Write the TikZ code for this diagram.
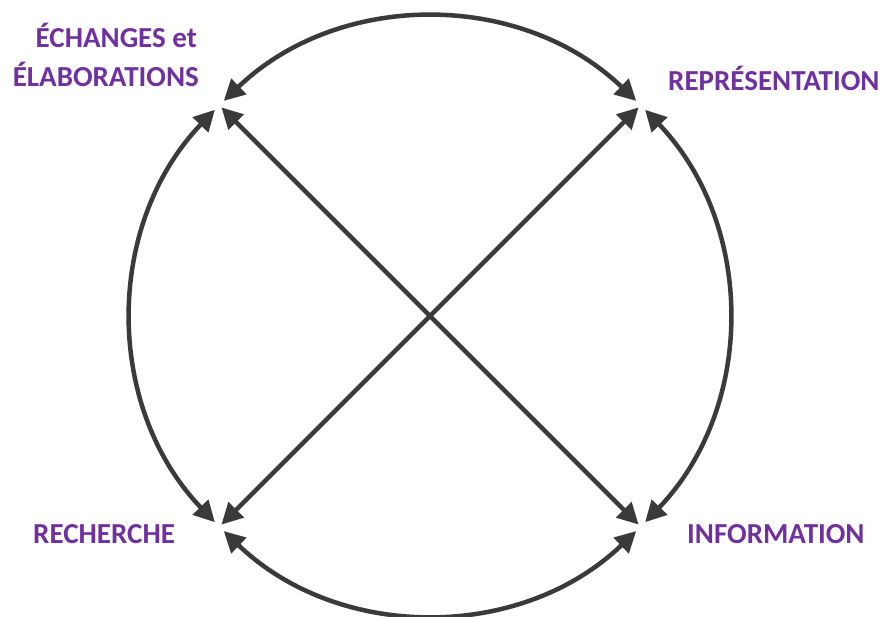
\documentclass[tikz,border=0pt]{standalone}
\usepackage{fontspec}
\setmainfont{Carlito}
\usetikzlibrary{arrows.meta}
\definecolor{lblcol}{HTML}{7030A0}
\definecolor{lncol}{HTML}{3A3A3A}
\begin{document}
\begin{tikzpicture}[x=1pt,y=1pt,
  conn/.style={draw=lncol, line width=4.5pt,
    {Triangle[length=21pt,width=21pt]}-{Triangle[length=21pt,width=21pt]}},
  lab/.style={text=lblcol, font=\bfseries\fontsize{29}{35}\selectfont, inner sep=0pt}]
\useasboundingbox (0,0) rectangle (886,617);
\coordinate (c) at (430,301);
% arc end points
\path (c) ++(46.2:298) coordinate (t1);
\path (c) ++(136.2:298) coordinate (l1);
\path (c) ++(226.2:298) coordinate (b1);
\path (c) ++(316.2:298) coordinate (r1);
% diagonal end points
\path (c) ++(135:295) coordinate (dnw);
\path (c) ++(315:295) coordinate (dse);
\path (c) ++(45:295) coordinate (dne);
\path (c) ++(225:295) coordinate (dsw);
% arcs
\draw[conn] (t1) arc[start angle=46.2, end angle=133.8, radius=298];
\draw[conn] (l1) arc[start angle=136.2, end angle=223.8, radius=298];
\draw[conn] (b1) arc[start angle=226.2, end angle=313.8, radius=298];
\draw[conn] (r1) arc[start angle=316.2, end angle=403.8, radius=298];
% diagonals
\draw[conn] (dnw) -- (dse);
\draw[conn] (dne) -- (dsw);
% labels
\node[lab, anchor=base east] (ech1) at (197,569) {ÉCHANGES et};
\node[lab, anchor=base east] (ech2) at (199,530) {ÉLABORATIONS};
\node[lab, anchor=base west] (rep) at (668,526) {REPRÉSENTATION};
\node[lab, anchor=base west] (rec) at (33,73) {RECHERCHE};
\node[lab, anchor=base west] (inf) at (687,73) {INFORMATION};
\end{tikzpicture}
\end{document}
